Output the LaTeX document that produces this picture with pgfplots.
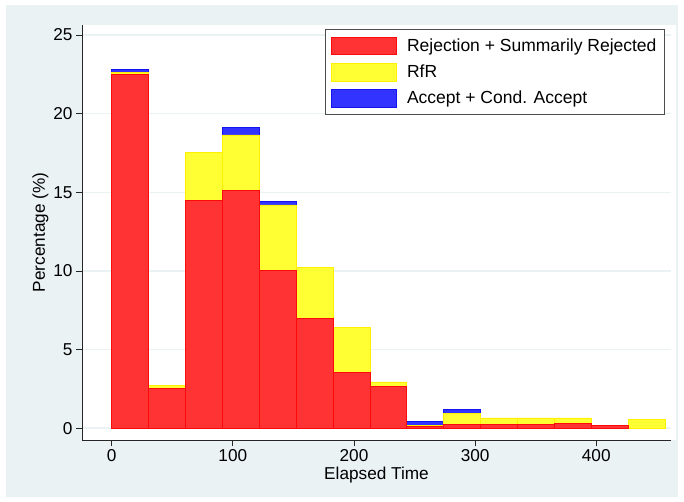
\documentclass[border=0pt]{standalone}
\usepackage{fontspec}
\setmainfont{Liberation Sans}
\usepackage{pgfplots}
\pgfplotsset{compat=1.18}
\definecolor{bgc}{RGB}{234,242,243}
\definecolor{gridc}{RGB}{234,242,243}
\definecolor{rfill}{RGB}{255,51,51}
\definecolor{rline}{RGB}{255,10,10}
\definecolor{yfill}{RGB}{255,255,51}
\definecolor{yline}{RGB}{255,240,0}
\definecolor{bfill}{RGB}{51,51,255}
\definecolor{bline}{RGB}{20,20,240}
\newcommand{\chfont}{\fontsize{17.2}{20}\selectfont}
\newcommand{\lgfont}{\fontsize{17.5}{20}\selectfont}
\begin{document}
\begin{tikzpicture}[x=1pt,y=1pt]
\fill[white] (0,0) rectangle (684,502);
\fill[bgc] (6,5) rectangle (678,497);
\fill[white] (82,62) rectangle (676,477);
\begin{axis}[
  at={(82pt,62pt)}, anchor=south west,
  scale only axis, width=589pt, height=415pt,
  xmin=-24.5, xmax=461.7, ymin=-0.75, ymax=25.64,
  axis x line*=bottom, axis y line*=left,
  axis line style={line width=0.8pt, black!85},
  xtick={0,100,200,300,400}, ytick={0,5,10,15,20,25},
  tick align=outside, major tick length=6pt,
  tick style={line width=0.8pt, black!85},
  ymajorgrids, grid style={gridc, line width=1.6pt},
  /pgf/number format/assume math mode=true,
  tick label style={font=\chfont},
  label style={font=\chfont},
  xlabel={Elapsed Time}, ylabel={Percentage (\%)},
  xlabel style={yshift=2pt},
  ylabel style={yshift=-2pt},
  legend cell align=left,
  reverse legend,
  legend image code/.code={\draw[#1, line width=0.6pt] (0pt,-8.8pt) rectangle (65pt,8.8pt);},
  legend style={at={(0.4126,0.9896)}, anchor=north west, draw=black!70, line width=0.8pt,
    fill=white, font=\lgfont, inner xsep=6pt, inner ysep=7pt, row sep=8pt,
    /tikz/every odd column/.append style={column sep=8pt},
    /tikz/every even column/.append style={column sep=8pt}},
  bar width=30.45, bar shift=0pt,
]
\addplot[ybar, fill=bfill, draw=bline, line width=0.6pt] coordinates {
 (15.225,22.82) (106.575,19.12) (137.025,14.40) (258.825,0.42) (289.275,1.18)
};
\addlegendentry{Accept + Cond. Accept}
\addplot[ybar, fill=yfill, draw=yline, line width=0.6pt] coordinates {
 (15.225,22.60) (45.675,2.73) (76.125,17.56) (106.575,18.65) (137.025,14.20)
 (167.475,10.20) (197.925,6.42) (228.375,2.95) (258.825,0.20) (289.275,0.96)
 (319.725,0.66) (350.175,0.66) (380.625,0.66) (441.525,0.54)
};
\addlegendentry{RfR}
\addplot[ybar, fill=rfill, draw=rline, line width=0.6pt] coordinates {
 (15.225,22.50) (45.675,2.52) (76.125,14.48) (106.575,15.11) (137.025,10.02)
 (167.475,7.00) (197.925,3.54) (228.375,2.67) (258.825,0.12) (289.275,0.22)
 (319.725,0.22) (350.175,0.22) (380.625,0.33) (411.075,0.17)
};
\addlegendentry{Rejection + Summarily Rejected}
\end{axis}
\end{tikzpicture}
\end{document}
